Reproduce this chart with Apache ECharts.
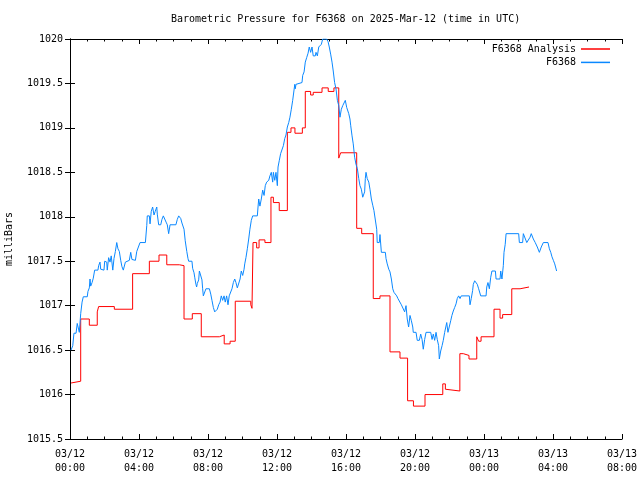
<!DOCTYPE html>
<html><head><meta charset="utf-8">
<script src="https://cdn.jsdelivr.net/npm/echarts@6/dist/echarts.min.js"></script>
<style>html,body{margin:0;padding:0;background:#fff}#c{width:640px;height:480px}</style>
</head><body><div id="c"></div>
<script>
const titleText = 'Barometric Pressure for F6368 on 2025-Mar-12 (time in UTC)';
const yAxisName = 'milliBars';
const seriesNames = ['F6368 Analysis', 'F6368'];
const xTickLabels = ['03/12\n00:00','03/12\n04:00','03/12\n08:00','03/12\n12:00','03/12\n16:00','03/12\n20:00','03/13\n00:00','03/13\n04:00','03/13\n08:00'];

// hours since 03/12 00:00 UTC, step start times for the analysis series
const analysisHours = [0.06,0.14,0.62,1.12,1.58,1.66,2.57,3.63,4.60,5.16,5.61,6.34,6.61,7.09,7.61,8.66,8.94,9.28,9.58,10.48,10.55,10.61,10.82,10.96,11.30,11.65,11.79,12.13,12.60,12.81,13.04,13.47,13.64,13.95,14.10,14.61,14.97,15.30,15.58,15.69,16.62,16.91,17.58,17.97,18.55,19.13,19.57,19.91,20.58,21.61,21.76,21.86,22.60,22.80,23.13,23.58,23.69,23.83,24.58,24.93,25.08,25.61,26.09,26.61];
const analysisValues = [1016.13,1016.15,1016.85,1016.78,1016.93,1016.99,1016.96,1017.36,1017.50,1017.57,1017.46,1017.45,1016.85,1016.91,1016.65,1016.67,1016.57,1016.60,1017.05,1017.01,1016.97,1017.71,1017.65,1017.74,1017.71,1018.22,1018.16,1018.07,1018.95,1019.00,1018.94,1019.00,1019.41,1019.37,1019.40,1019.45,1019.41,1019.45,1018.66,1018.72,1017.87,1017.81,1017.08,1017.11,1016.48,1016.41,1015.93,1015.87,1016.00,1016.12,1016.06,1016.04,1016.46,1016.44,1016.40,1016.65,1016.60,1016.65,1016.96,1016.86,1016.90,1017.19,1017.21,1017.21];

const obsHours = [0.06,0.16,0.23,0.35,0.42,0.50,0.54,0.62,0.70,0.77,1.00,1.04,1.12,1.16,1.20,1.28,1.35,1.43,1.62,1.66,1.74,1.78,1.97,2.01,2.13,2.16,2.24,2.32,2.39,2.48,2.55,2.63,2.71,2.78,2.86,2.94,3.01,3.09,3.21,3.29,3.44,3.52,3.59,3.79,3.87,3.98,4.06,4.37,4.45,4.48,4.60,4.64,4.71,4.79,4.87,4.94,5.03,5.06,5.14,5.26,5.33,5.41,5.57,5.64,5.72,5.80,6.14,6.22,6.30,6.42,6.49,6.61,6.68,6.77,6.84,6.88,7.07,7.11,7.19,7.23,7.30,7.34,7.38,7.46,7.50,7.61,7.65,7.69,7.73,7.84,7.88,8.08,8.16,8.23,8.31,8.39,8.46,8.54,8.62,8.70,8.77,8.85,8.93,9.00,9.08,9.16,9.23,9.32,9.39,9.47,9.55,9.62,9.70,9.78,9.86,9.93,10.01,10.09,10.13,10.20,10.28,10.36,10.43,10.51,10.59,10.86,10.90,10.94,11.01,11.09,11.17,11.25,11.32,11.40,11.52,11.59,11.67,11.75,11.79,11.87,11.94,12.02,12.06,12.13,12.21,12.29,12.37,12.45,12.52,12.60,12.68,12.75,12.83,12.91,12.99,13.03,13.06,13.10,13.18,13.45,13.49,13.57,13.64,13.72,13.80,13.87,13.95,14.03,14.10,14.22,14.26,14.34,14.42,14.49,14.57,14.65,14.88,14.96,15.03,15.11,15.19,15.26,15.34,15.42,15.50,15.58,15.65,15.73,15.81,15.88,15.96,16.04,16.12,16.16,16.23,16.27,16.35,16.42,16.50,16.58,16.66,16.74,16.81,16.89,16.97,17.08,17.12,17.16,17.23,17.32,17.39,17.47,17.55,17.62,17.70,17.78,17.81,17.93,17.97,18.05,18.28,18.32,18.39,18.48,18.55,18.63,18.71,18.78,18.86,18.94,19.01,19.09,19.21,19.32,19.40,19.48,19.55,19.63,19.71,19.79,19.87,19.90,20.06,20.13,20.25,20.33,20.41,20.48,20.56,20.64,20.91,20.99,21.06,21.14,21.22,21.29,21.37,21.41,21.49,21.57,21.64,21.72,21.84,21.91,21.99,22.07,22.14,22.22,22.30,22.38,22.45,22.53,22.61,22.68,23.15,23.19,23.26,23.34,23.38,23.46,23.54,23.61,23.69,23.81,24.12,24.16,24.23,24.31,24.39,24.46,24.66,24.70,24.93,24.97,25.04,25.12,25.16,25.23,25.28,26.01,26.05,26.24,26.28,26.39,26.48,26.59,26.67,26.74,26.86,26.97,27.09,27.21,27.32,27.44,27.71,27.79,27.87,27.94,28.02,28.10,28.21];
const obsValues = [1016.50,1016.55,1016.69,1016.69,1016.80,1016.78,1016.70,1016.91,1017.04,1017.10,1017.10,1017.16,1017.20,1017.30,1017.22,1017.26,1017.31,1017.40,1017.40,1017.45,1017.49,1017.41,1017.40,1017.50,1017.49,1017.40,1017.54,1017.49,1017.56,1017.40,1017.53,1017.61,1017.71,1017.64,1017.61,1017.51,1017.44,1017.40,1017.49,1017.51,1017.51,1017.60,1017.52,1017.51,1017.61,1017.61,1017.71,1017.71,1017.90,1018.01,1018.01,1017.92,1018.06,1018.11,1018.02,1018.06,1018.11,1018.03,1017.91,1017.91,1017.97,1018.01,1017.94,1017.91,1017.81,1017.91,1017.91,1017.97,1018.01,1017.98,1017.93,1017.86,1017.73,1017.61,1017.53,1017.50,1017.50,1017.42,1017.37,1017.32,1017.24,1017.21,1017.25,1017.29,1017.39,1017.39,1017.29,1017.19,1017.11,1017.11,1017.19,1017.19,1017.13,1017.06,1016.98,1016.93,1016.91,1016.96,1017.01,1017.04,1017.11,1017.06,1017.11,1017.04,1017.11,1017.01,1017.11,1017.12,1017.19,1017.26,1017.30,1017.26,1017.20,1017.20,1017.30,1017.39,1017.34,1017.41,1017.47,1017.54,1017.64,1017.75,1017.86,1017.96,1018.01,1018.01,1018.11,1018.20,1018.12,1018.20,1018.30,1018.24,1018.35,1018.39,1018.41,1018.46,1018.50,1018.39,1018.50,1018.41,1018.50,1018.35,1018.56,1018.63,1018.71,1018.71,1018.80,1018.88,1018.92,1019.01,1019.06,1019.12,1019.21,1019.31,1019.32,1019.49,1019.44,1019.49,1019.51,1019.51,1019.59,1019.63,1019.74,1019.79,1019.84,1019.91,1019.85,1019.91,1019.81,1019.81,1019.85,1019.81,1019.91,1019.91,1019.94,1020.00,1020.00,1019.97,1019.91,1019.83,1019.74,1019.64,1019.51,1019.44,1019.31,1019.25,1019.12,1019.21,1019.25,1019.27,1019.31,1019.23,1019.21,1019.16,1019.10,1019.03,1018.91,1018.82,1018.67,1018.59,1018.54,1018.43,1018.35,1018.31,1018.22,1018.28,1018.43,1018.50,1018.43,1018.39,1018.31,1018.20,1018.13,1018.07,1018.05,1017.86,1017.71,1017.71,1017.80,1017.60,1017.60,1017.53,1017.47,1017.41,1017.38,1017.30,1017.19,1017.15,1017.17,1017.11,1017.08,1017.08,1017.01,1017.01,1016.93,1017.00,1016.85,1016.76,1016.89,1016.83,1016.76,1016.70,1016.70,1016.61,1016.61,1016.68,1016.62,1016.51,1016.62,1016.70,1016.70,1016.62,1016.68,1016.61,1016.70,1016.62,1016.55,1016.40,1016.49,1016.55,1016.61,1016.70,1016.81,1016.70,1016.70,1016.83,1016.89,1016.94,1016.98,1017.02,1017.08,1017.11,1017.08,1017.11,1017.11,1017.01,1017.08,1017.17,1017.24,1017.28,1017.30,1017.24,1017.19,1017.11,1017.11,1017.21,1017.26,1017.19,1017.32,1017.39,1017.39,1017.30,1017.30,1017.39,1017.30,1017.45,1017.60,1017.69,1017.81,1017.81,1017.71,1017.71,1017.81,1017.81,1017.71,1017.71,1017.77,1017.81,1017.75,1017.71,1017.66,1017.60,1017.66,1017.71,1017.71,1017.64,1017.60,1017.55,1017.51,1017.47,1017.39];

const FONT = 'DejaVu Sans Mono';
const chart = echarts.init(document.getElementById('c'), null, {renderer: 'canvas'});
const axisLine = {show: true, lineStyle: {color: '#000', width: 1}};
const xCommon = {
  type: 'value', min: 0, max: 32, interval: 4,
  axisLine: axisLine,
  axisTick: {show: true, inside: true, length: 5, lineStyle: {color: '#000'}},
  minorTick: {show: true, splitNumber: 4, length: 2.5, lineStyle: {color: '#000'}},
  splitLine: {show: false}
};
const yCommon = {
  type: 'value', min: 1015.5, max: 1020, interval: 0.5,
  axisLine: axisLine,
  axisTick: {show: true, inside: true, length: 5, lineStyle: {color: '#000'}},
  splitLine: {show: false}
};
chart.setOption({
  animation: false,
  backgroundColor: '#fff',
  title: {
    text: titleText, left: 171, top: 14, padding: 0,
    textStyle: {fontFamily: FONT, fontSize: 10, fontWeight: 'normal', color: '#000'}
  },
  legend: {
    data: [{name: seriesNames[0], icon: 'rect'}, {name: seriesNames[1], icon: 'rect'}],
    orient: 'vertical', right: 30, top: 43, align: 'right', padding: 0,
    itemWidth: 29, itemHeight: 1.5, itemGap: 1.4,
    textStyle: {fontFamily: FONT, fontSize: 10, color: '#000', lineHeight: 12}
  },
  grid: {left: 70, right: 18, top: 39, bottom: 41, containLabel: false, outerBoundsMode: 'none'},
  xAxis: [
    Object.assign({}, xCommon, {
      position: 'bottom',
      axisLabel: {
        formatter: v => xTickLabels[Math.round(v / 4)],
        fontFamily: FONT, fontSize: 10, color: '#000', lineHeight: 13.5, margin: 9
      }
    }),
    Object.assign({}, xCommon, {position: 'top', axisLabel: {show: false}})
  ],
  yAxis: [
    Object.assign({}, yCommon, {
      position: 'left',
      name: yAxisName, nameLocation: 'middle', nameGap: 56,
      nameTextStyle: {fontFamily: FONT, fontSize: 10, color: '#000'},
      axisLabel: {formatter: v => String(v), fontFamily: FONT, fontSize: 10, color: '#000', margin: 7}
    }),
    Object.assign({}, yCommon, {position: 'right', axisLabel: {show: false}})
  ],
  series: [
    {
      name: seriesNames[0], type: 'line', step: 'end', showSymbol: false, symbol: 'none',
      color: '#ff0000', lineStyle: {color: '#ff0000', width: 1},
      data: analysisHours.map((h, i) => [h, analysisValues[i]])
    },
    {
      name: seriesNames[1], type: 'line', showSymbol: false, symbol: 'none',
      color: '#0a88ff', lineStyle: {color: '#0a88ff', width: 1},
      data: obsHours.map((h, i) => [h, obsValues[i]])
    }
  ]
});
</script>
</body></html>
